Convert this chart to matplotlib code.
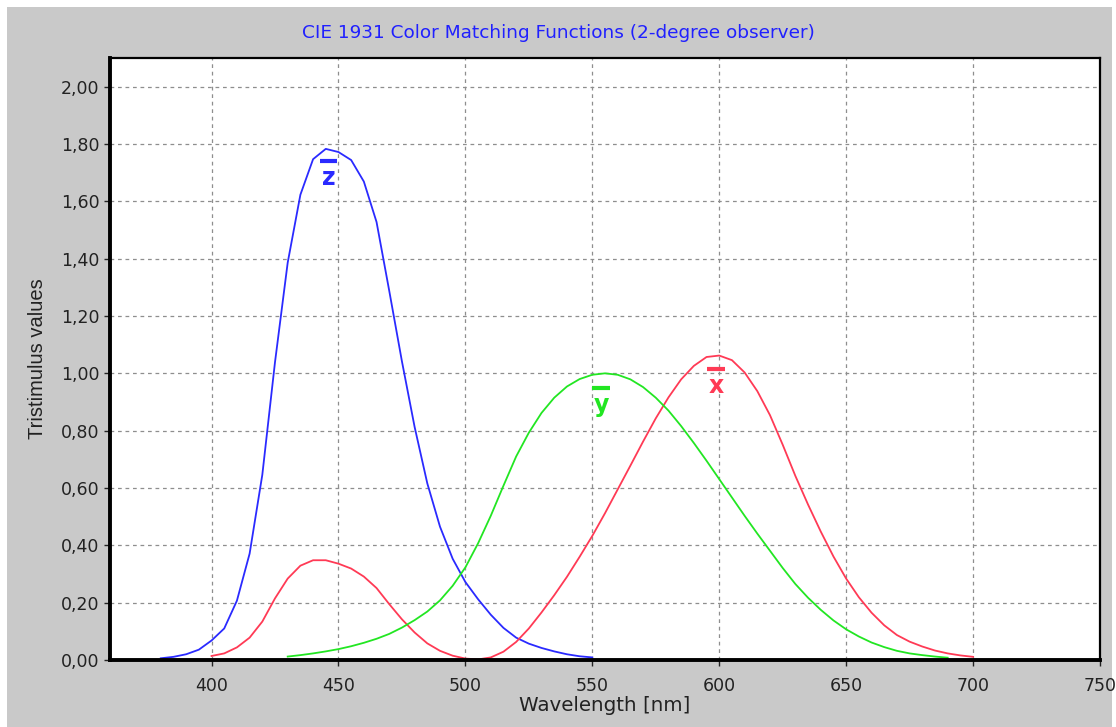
import numpy as np
import matplotlib
matplotlib.use("Agg")
import matplotlib.pyplot as plt
from matplotlib.patches import Rectangle
from matplotlib.ticker import FuncFormatter

# wavelengths (nm) and curve values
wl_z = [380, 385, 390, 395, 400, 405, 410, 415, 420, 425, 430, 435, 440, 445, 450,
        455, 460, 465, 470, 475, 480, 485, 490, 495, 500, 505, 510, 515, 520, 525,
        530, 535, 540, 545, 550]
z_bar = [0.006, 0.011, 0.020, 0.036, 0.068, 0.110, 0.207, 0.371, 0.646, 1.039, 1.386,
         1.623, 1.747, 1.783, 1.772, 1.744, 1.669, 1.528, 1.288, 1.042, 0.813, 0.616,
         0.465, 0.353, 0.272, 0.212, 0.158, 0.112, 0.078, 0.057, 0.042, 0.030, 0.020,
         0.013, 0.009]

wl_x = [400, 405, 410, 415, 420, 425, 430, 435, 440, 445, 450, 455, 460, 465, 470,
        475, 480, 485, 490, 495, 500, 505, 510, 515, 520, 525, 530, 535, 540, 545,
        550, 555, 560, 565, 570, 575, 580, 585, 590, 595, 600, 605, 610, 615, 620,
        625, 630, 635, 640, 645, 650, 655, 660, 665, 670, 675, 680, 685, 690, 695, 700]
x_bar = [0.014, 0.023, 0.044, 0.078, 0.134, 0.215, 0.284, 0.329, 0.348, 0.348, 0.336,
         0.319, 0.291, 0.251, 0.195, 0.142, 0.096, 0.058, 0.032, 0.015, 0.005, 0.002,
         0.009, 0.029, 0.063, 0.110, 0.166, 0.226, 0.290, 0.360, 0.433, 0.512, 0.595,
         0.678, 0.762, 0.843, 0.916, 0.979, 1.026, 1.057, 1.062, 1.046, 1.003, 0.938,
         0.854, 0.751, 0.642, 0.542, 0.448, 0.361, 0.284, 0.219, 0.165, 0.121, 0.087,
         0.064, 0.047, 0.033, 0.023, 0.016, 0.011]

wl_y = [430, 435, 440, 445, 450, 455, 460, 465, 470, 475, 480, 485, 490, 495, 500,
        505, 510, 515, 520, 525, 530, 535, 540, 545, 550, 555, 560, 565, 570, 575,
        580, 585, 590, 595, 600, 605, 610, 615, 620, 625, 630, 635, 640, 645, 650,
        655, 660, 665, 670, 675, 680, 685, 690]
y_bar = [0.012, 0.017, 0.023, 0.030, 0.038, 0.048, 0.060, 0.074, 0.091, 0.113, 0.139,
         0.169, 0.208, 0.259, 0.323, 0.407, 0.503, 0.608, 0.710, 0.793, 0.862, 0.915,
         0.954, 0.980, 0.995, 1.000, 0.995, 0.979, 0.952, 0.915, 0.870, 0.816, 0.757,
         0.695, 0.631, 0.567, 0.503, 0.441, 0.381, 0.321, 0.265, 0.217, 0.175, 0.138,
         0.107, 0.082, 0.061, 0.045, 0.032, 0.023, 0.017, 0.012, 0.008]

# curve name labels: letter, x (nm), baseline y
label_letters = ["z", "y", "x"]
label_wl = [446.2, 553.4, 598.7]
label_base = [1.657, 0.865, 0.931]

BLUE = "#2a2aff"
RED = "#ff3a55"
GREEN = "#22e622"
label_colors = [BLUE, GREEN, RED]

plt.rcParams["font.family"] = ["DejaVu Sans"]

fig = plt.figure(figsize=(11.16, 7.27), dpi=100, facecolor="white")
# grey window background
fig.patches.append(Rectangle((7 / 1116, 0), 1105 / 1116, 1 - 7 / 727,
                             transform=fig.transFigure, facecolor="#c9c9c9",
                             edgecolor="none", zorder=-10))

ax = fig.add_axes([110 / 1116, 1 - 660 / 727, 990 / 1116, 602 / 727])
ax.set_facecolor("white")

ax.plot(wl_z, z_bar, color=BLUE, lw=1.3)
ax.plot(wl_x, x_bar, color=RED, lw=1.3)
ax.plot(wl_y, y_bar, color=GREEN, lw=1.3)

ax.set_xlim(360, 750)
ax.set_ylim(0, 2.1)
ax.set_xticks(range(400, 751, 50))
ax.set_yticks(np.arange(0, 2.01, 0.2))
ax.yaxis.set_major_formatter(FuncFormatter(lambda v, p: f"{v:.2f}".replace(".", ",")))
ax.grid(True, color="#8e8e8e", linestyle=(0, (3, 3)), linewidth=0.9)
ax.tick_params(labelsize=12.5, colors="#222222", length=4, width=1, direction="out")
ax.tick_params(axis="x", pad=8)

for s in ["left", "bottom"]:
    ax.spines[s].set_linewidth(2.8)
for s in ["top", "right"]:
    ax.spines[s].set_linewidth(1.6)

# letters with a thick bar over them
for letter, lx, ly, c in zip(label_letters, label_wl, label_base, label_colors):
    ax.text(lx, ly, letter, color=c, fontsize=17, fontweight="bold",
            ha="center", va="baseline")
    ax.plot([lx - 3.4, lx + 3.4], [ly + 0.085, ly + 0.085], color=c, lw=3,
            solid_capstyle="butt")

fig.text(558 / 1116, 1 - 33 / 727, "CIE 1931 Color Matching Functions (2-degree observer)",
         color="#2020ff", fontsize=13.3, ha="center", va="center")
ax.set_xlabel("Wavelength [nm]", fontsize=14.3, labelpad=1, color="#222222")
ax.set_ylabel("Tristimulus values", fontsize=14.5, labelpad=10,
              family="Liberation Sans", color="#222222")

fig.savefig("out.png", dpi=100, facecolor=fig.get_facecolor())
